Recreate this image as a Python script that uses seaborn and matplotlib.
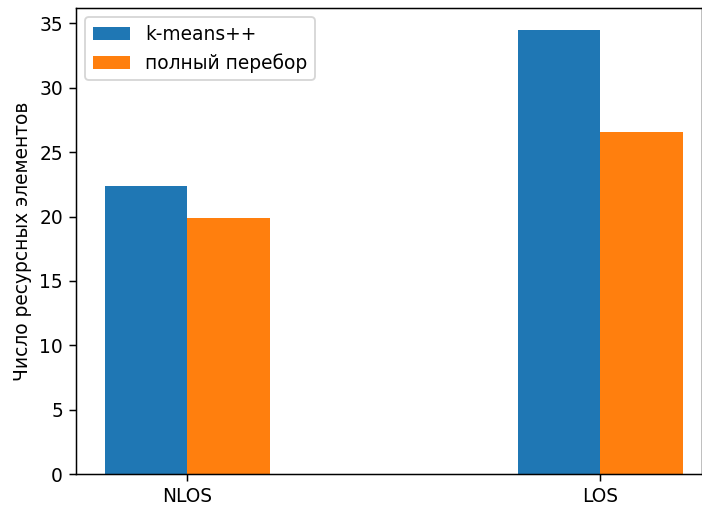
import matplotlib
matplotlib.use("Agg")
import matplotlib.pyplot as plt
import seaborn as sns
import pandas as pd

categories = ["NLOS", "LOS"]
methods = ["k-means++", "полный перебор"]
kmeans_vals = [22.4, 34.5]
full_vals = [19.9, 26.6]
ylabel = "Число ресурсных элементов"

df = pd.DataFrame({
    "cat": categories * 2,
    "method": [methods[0]] * 2 + [methods[1]] * 2,
    "val": kmeans_vals + full_vals,
})

plt.rcParams['font.family'] = ['DejaVu Sans']
plt.rcParams['font.size'] = 10

DPI = 134
fig = plt.figure(figsize=(702 / DPI, 506 / DPI), dpi=DPI)
ax = fig.add_axes([76 / 702, 32 / 506, 625.5 / 702, 466 / 506])
sns.barplot(data=df, x="cat", y="val", hue="method", order=categories,
            hue_order=methods, palette=["#1f77b4", "#ff7f0e"], width=0.4,
            errorbar=None, linewidth=0, ax=ax, saturation=1)
ax.set_xlim(-0.27, 1.245)
ax.set_ylim(0, 36.2)
ax.set_xlabel("")
ax.set_ylabel(ylabel)
ax.legend(loc="upper left")
fig.savefig("out.png", dpi=DPI)
